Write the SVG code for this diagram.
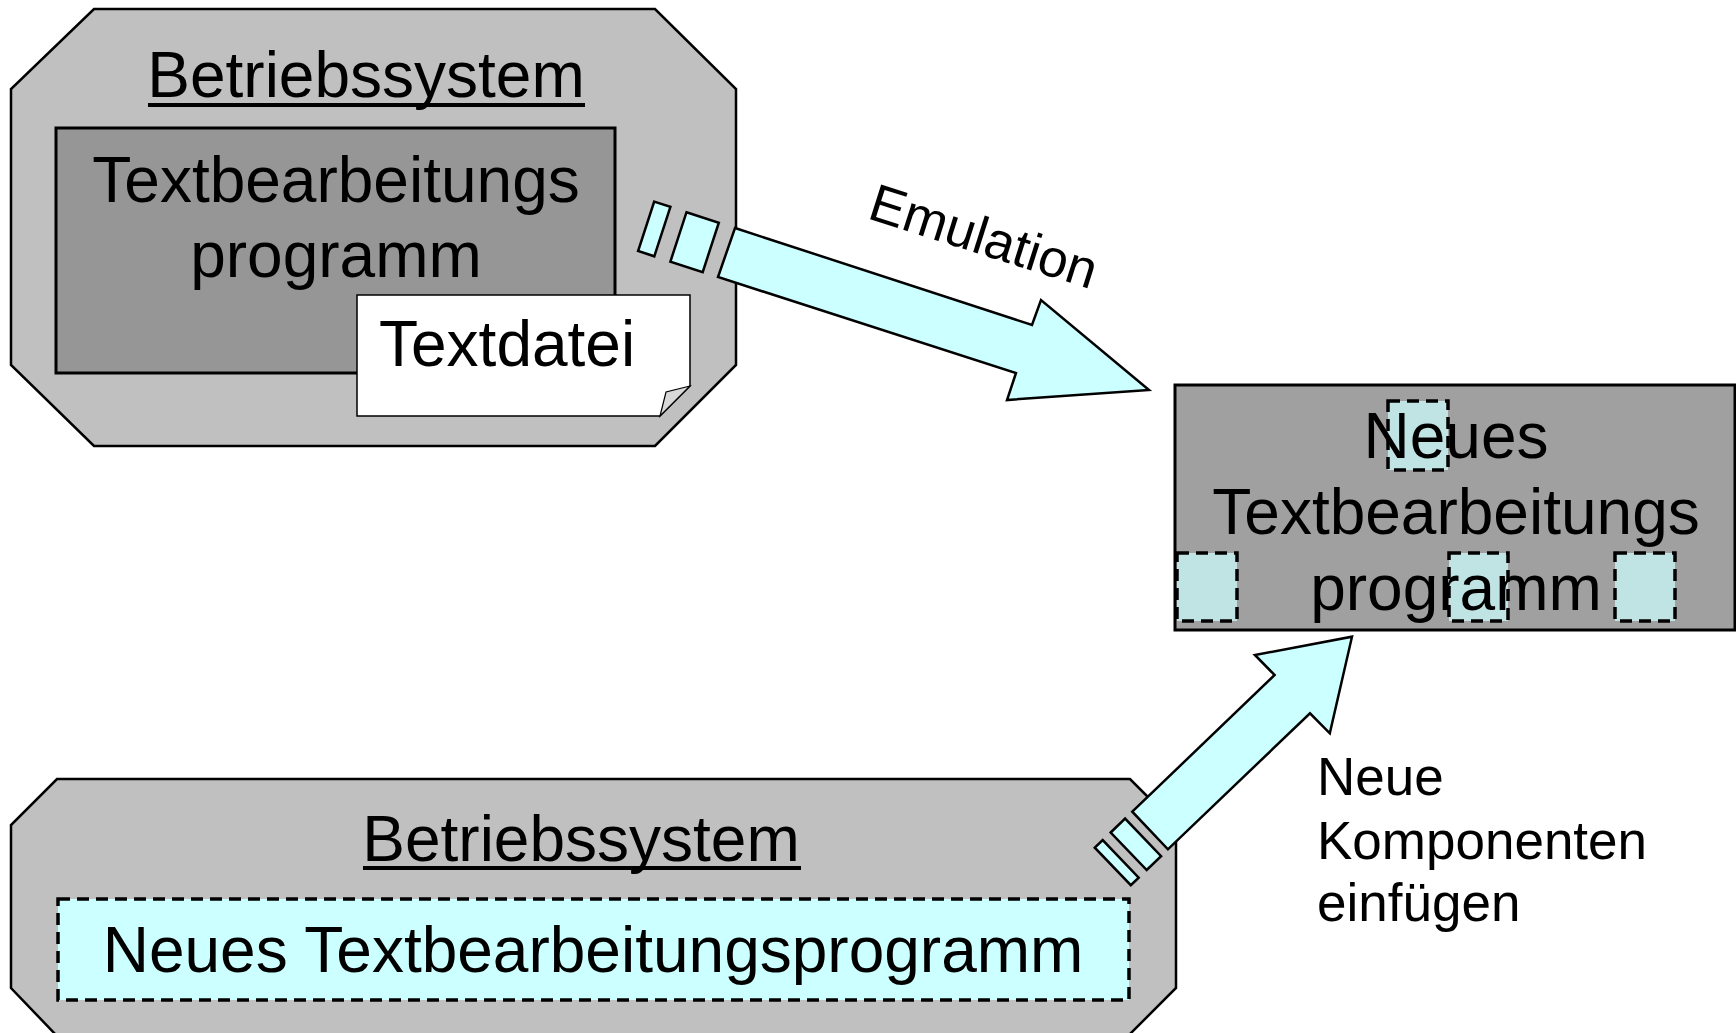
<svg xmlns="http://www.w3.org/2000/svg" width="1736" height="1033" viewBox="0 0 1736 1033">
<style>
.t{font-family:"Liberation Sans",Arial,sans-serif;fill:#000}
.big{font-size:64px}
.mid{font-size:53px}
.oct{fill:#c0c0c0;stroke:#000;stroke-width:2.5}
.arr{fill:#ccffff;stroke:#000;stroke-width:2.5;stroke-linejoin:miter}
.sq{fill:#c0e3e3;stroke:#000;stroke-width:3.5;stroke-dasharray:12 7}
</style>
<rect width="1736" height="1033" fill="#fff"/>
<g id="os-top">
<polygon class="oct" points="94,9 655,9 736,89 736,365 655,446 94,446 11,365 11,89"/>
<text class="t big" x="366" y="97" text-anchor="middle">Betriebssystem</text>
<rect x="148" y="103" width="437" height="4" fill="#000"/>
</g>
<g id="old-program">
<rect x="56" y="128" width="559" height="245" fill="#969696" stroke="#000" stroke-width="3"/>
<text class="t big" x="336" y="202" text-anchor="middle">Textbearbeitungs</text>
<text class="t big" x="336" y="277" text-anchor="middle">programm</text>
</g>
<g id="textdatei">
<path d="M357,295 H690 V386 L660,416 H357 Z" fill="#fff" stroke="#000" stroke-width="1.5"/>
<path d="M660,416 L666,392 L690,386 Z" fill="#d8d8d8" stroke="#000" stroke-width="1.2"/>
<text class="t big" x="379" y="366">Textdatei</text>
</g>
<g id="os-bottom">
<polygon class="oct" points="57,779 1130,779 1176,825 1176,988 1128,1036 57,1036 11,988 11,825"/>
<text class="t big" x="581" y="861" text-anchor="middle">Betriebssystem</text>
<rect x="363" y="866" width="438" height="4" fill="#000"/>
<rect x="58" y="899" width="1071" height="101" fill="#ccffff" stroke="#000" stroke-width="3.5" stroke-dasharray="12 7"/>
<text class="t big" x="593" y="972" text-anchor="middle">Neues Textbearbeitungsprogramm</text>
</g>
<g id="new-program">
<rect x="1175" y="385" width="560" height="245" fill="#a0a0a0" stroke="#000" stroke-width="3"/>
<rect class="sq" x="1388" y="401" width="60" height="69"/>
<rect class="sq" x="1177" y="553" width="60" height="68"/>
<rect class="sq" x="1449" y="553" width="59" height="68"/>
<rect class="sq" x="1615" y="553" width="60" height="68"/>
<text class="t big" x="1456" y="458" text-anchor="middle">Neues</text>
<text class="t big" x="1456" y="534" text-anchor="middle">Textbearbeitungs</text>
<text class="t big" x="1456" y="610" text-anchor="middle">programm</text>
</g>
<g id="connectors">
<g id="emulation-arrow">
<polygon class="arr" points="654.2,201.6 670.4,206.9 654.3,256.3 638.1,251"/>
<polygon class="arr" points="686.5,212.2 718.8,222.7 702.7,272.1 670.4,261.6"/>
<polygon class="arr" points="735,228 1032,325 1041,300 1149,390 1007,400 1016,373 718,277"/>
<text class="t mid" transform="translate(866,218) rotate(17.6)">Emulation</text>
</g>
<g id="components-arrow">
<polygon class="arr" points="1094.8,847.7 1102.7,840.1 1138.7,877.6 1130.8,885.2"/>
<polygon class="arr" points="1110.7,832.5 1125.1,818.6 1161.1,856.1 1146.7,870"/>
<polygon class="arr" points="1132.3,811.7 1274.6,675 1254.9,655 1352,636.7 1329.8,733.3 1310,713.3 1167.9,849.3"/>
<text class="t mid" x="1317" y="795">Neue</text>
<text class="t mid" x="1317" y="859">Komponenten</text>
<text class="t mid" x="1317" y="921">einfügen</text>
</g>
</g>
</svg>
